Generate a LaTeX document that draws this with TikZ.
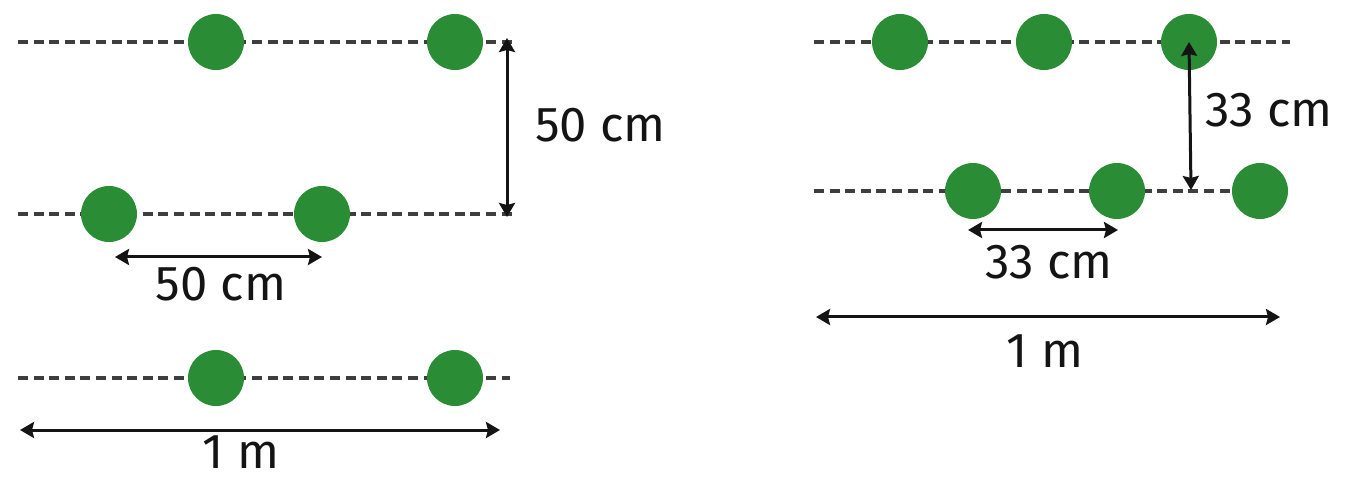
\documentclass[tikz,border=0pt]{standalone}
\usepackage{fontspec}
\setmainfont{Fira Sans}
\usetikzlibrary{arrows.meta}
\definecolor{plantgreen}{RGB}{42,140,52}
\definecolor{rowgray}{RGB}{62,62,62}
\definecolor{dimblack}{RGB}{20,20,20}
\begin{document}
\begin{tikzpicture}[x=0.5pt,y=-0.5pt,
  plant/.style={circle,fill=plantgreen,minimum size=28pt,inner sep=0pt},
  rowline/.style={rowgray,line width=1.6pt,dash pattern=on 5pt off 2.8pt},
  dim/.style={dimblack,line width=1.5pt,{Stealth[length=7pt,width=8pt,inset=1pt]}-{Stealth[length=7pt,width=8pt,inset=1pt]}},
  lbl/.style={font=\fontsize{24.5}{28}\selectfont,text=dimblack,inner sep=0pt}]
\useasboundingbox (0,0) rectangle (1347,480);

% ---------- square pattern: 50 cm x 50 cm ----------
\coordinate (la1) at (18,42);  \coordinate (lb1) at (512,42);
\coordinate (la2) at (18,214); \coordinate (lb2) at (512,214);
\coordinate (la3) at (18,378); \coordinate (lb3) at (510,378);
\draw[rowline] (la1) -- (lb1);
\draw[rowline] (la2) -- (lb2);
\draw[rowline] (la3) -- (lb3);

\node[plant] (s11) at (216,42) {};
\node[plant] (s12) at (455,42) {};
\node[plant] (s21) at (109,214) {};
\node[plant] (s22) at (322,214) {};
\node[plant] (s31) at (216,378) {};
\node[plant] (s32) at (455,378) {};

\coordinate (sv1) at (507,38);  \coordinate (sv2) at (507,217);
\draw[dim] (sv1) -- (sv2);
\node[lbl,anchor=base west] (svl) at (535,142) {50 cm};

\coordinate (sh1) at (115,257); \coordinate (sh2) at (322,257);
\draw[dim] (sh1) -- (sh2);
\node[lbl,anchor=base] (shl) at (221,300) {50 cm};

\coordinate (sm1) at (20,430); \coordinate (sm2) at (500,430);
\draw[dim] (sm1) -- (sm2);
\node[lbl,anchor=base] (sml) at (241,468) {1 m};

% ---------- staggered pattern: 33 cm ----------
\coordinate (ra1) at (814,42);  \coordinate (rb1) at (1290,42);
\coordinate (ra2) at (814,191); \coordinate (rb2) at (1240,191);
\draw[rowline] (ra1) -- (rb1);
\draw[rowline] (ra2) -- (rb2);

\node[plant] (t11) at (900,42) {};
\node[plant] (t12) at (1044,42) {};
\node[plant] (t13) at (1189,42) {};
\node[plant] (t21) at (973,191) {};
\node[plant] (t22) at (1117,191) {};
\node[plant] (t23) at (1260,191) {};

\coordinate (tv2) at (1191,190);
\draw[dim] (t13.center) -- (tv2);
\node[lbl,anchor=base west] (tvl) at (1205,127) {33 cm};

\coordinate (th1) at (968,230); \coordinate (th2) at (1118,230);
\draw[dim] (th1) -- (th2);
\node[lbl,anchor=base] (thl) at (1049,279) {33 cm};

\coordinate (tm1) at (816,317); \coordinate (tm2) at (1280,317);
\draw[dim] (tm1) -- (tm2);
\node[lbl,anchor=base] (tml) at (1045,367) {1 m};
\end{tikzpicture}
\end{document}
